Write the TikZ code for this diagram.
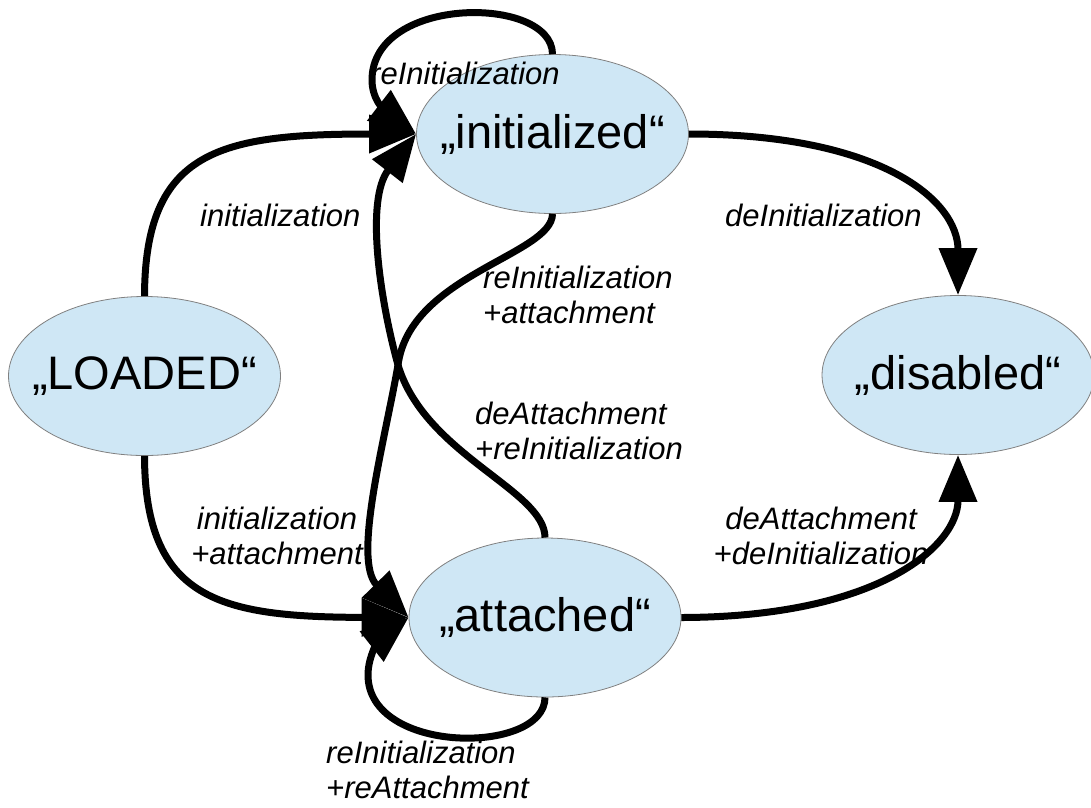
\documentclass[tikz,border=0pt]{standalone}
\usepackage{fontspec}
\setmainfont{Liberation Sans}
\definecolor{stfill}{RGB}{207,231,245}
\definecolor{stline}{RGB}{128,128,128}
\usepackage{tikz}
\usetikzlibrary{shapes.geometric, positioning, arrows.meta}
\tikzset{
  statenode/.style={ellipse, draw=stline, fill=stfill, line width=0.8pt,
    minimum width=272pt, minimum height=159pt, inner sep=0pt,
    font=\fontsize{47}{56}\selectfont},
  transarrow/.style={line width=7pt, -{Triangle[length=47pt,width=37pt]}},
  lbl/.style={inner sep=0pt, font=\fontsize{31}{35}\selectfont\itshape}
}

\begin{document}
\begin{tikzpicture}[x=1pt,y=-1pt]
\useasboundingbox (0,0) rectangle (1091,807);
% states
\node[statenode] (load) at (144.5,376) {\makebox[0pt]{„LOADED“}};
\node[statenode] (ini) at (552.5,134) {\makebox[0pt]{„initialized“}};
\node[statenode] (att) at (545,617.5) {\makebox[0pt]{„attached“}};
\node[statenode] (dis) at (958,375) {\makebox[0pt]{„disabled“}};
% transitions
\draw[transarrow] (load.north) .. controls (145,150) and (220,134) .. (ini.west);
\draw[transarrow] (load.south) .. controls (145,600) and (220,617) .. (att.west);
\draw[transarrow] (ini.east) .. controls (880,134) and (958,200) .. (dis.north);
\draw[transarrow] (att.east) .. controls (880,617) and (958,545) .. (dis.south);
\draw[transarrow] (ini.north) .. controls (552,-5) and (372,-5) .. (372,80)
  .. controls (372,100) and (385,110) .. (ini.west);
\draw[transarrow] (att.south) .. controls (545,755) and (368,755) .. (368,675)
  .. controls (368,655) and (380,640) .. (att.west);
\draw[transarrow] (ini.south) .. controls (552,255) and (410,275) .. (398,365)
  .. controls (385,440) and (352,560) .. (att.west);
\draw[transarrow] (att.north) .. controls (545,490) and (425,455) .. (398,365)
  .. controls (380,300) and (365,200) .. (ini.west);
% labels
\node[lbl, anchor=base west] (l-init) at (200,226) {initialization};
\node[lbl, anchor=base west] (l-reinit) at (370,84) {reInitialization};
\node[lbl, anchor=base west] (l-deinit) at (725,226) {deInitialization};
\node[lbl, anchor=base west, align=left] (l-reinitatt) at (483,323) {reInitialization\\+attachment};
\node[lbl, anchor=base west, align=left] (l-deattreinit) at (475,459) {deAttachment\\+reInitialization};
\node[lbl, anchor=base, align=center] (l-initatt) at (277,564) {initialization\\+attachment};
\node[lbl, anchor=base, align=center] (l-deattdeinit) at (821,564) {deAttachment\\+deInitialization};
\node[lbl, anchor=base west, align=left] (l-reinitreatt) at (326,798) {reInitialization\\+reAttachment};
\end{tikzpicture}
\end{document}
